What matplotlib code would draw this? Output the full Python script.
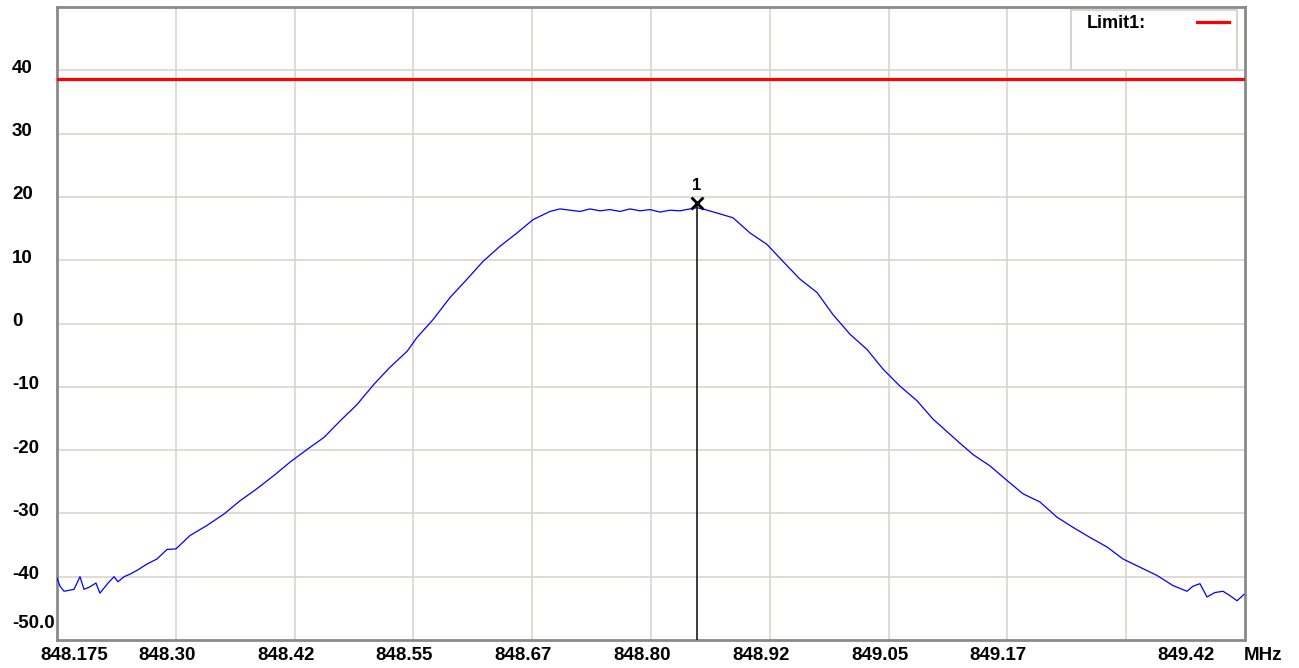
import matplotlib
matplotlib.use("Agg")
import matplotlib.pyplot as plt
import matplotlib.transforms as mtransforms
from matplotlib.patches import Rectangle
from matplotlib.lines import Line2D

# ---------------- data ----------------
freq_mhz = [
    848.1750, 848.1782, 848.1824, 848.1929, 848.1992, 848.2034, 848.2097, 848.2160,
    848.2202, 848.2276, 848.2350, 848.2392, 848.2455, 848.2518, 848.2592, 848.2697,
    848.2802, 848.2907, 848.3002, 848.3149, 848.3328, 848.3507, 848.3676, 848.3854,
    848.4033, 848.4202, 848.4381, 848.4559, 848.4728, 848.4907, 848.5085, 848.5254,
    848.5433, 848.5538, 848.5706, 848.5885, 848.6064, 848.6232, 848.6411, 848.6590,
    848.6758, 848.6937, 848.7042, 848.7148, 848.7253, 848.7358, 848.7463, 848.7569,
    848.7674, 848.7779, 848.7884, 848.7990, 848.8095, 848.8200, 848.8305, 848.8410,
    848.8484, 848.8568, 848.8684, 848.8863, 848.9042, 848.9220, 848.9389, 848.9568,
    848.9747, 848.9915, 849.0094, 849.0273, 849.0441, 849.0620, 849.0799, 849.0967,
    849.1146, 849.1220, 849.1388, 849.1567, 849.1746, 849.1914, 849.2093, 849.2272,
    849.2440, 849.2619, 849.2798, 849.2966, 849.3145, 849.3324, 849.3492, 849.3640,
    849.3703, 849.3776, 849.3850, 849.3934, 849.4019, 849.4092, 849.4166, 849.4239,
]
level_dbm = [
    -40.2, -41.5, -42.3, -42.0, -40.0, -42.0, -41.6, -41.0,
    -42.6, -41.2, -40.0, -40.8, -40.0, -39.6, -39.0, -38.0,
    -37.2, -35.7, -35.6, -33.5, -31.9, -30.1, -28.0, -26.1,
    -24.0, -21.9, -19.9, -18.0, -15.4, -12.8, -9.6, -6.9,
    -4.4, -2.2, 0.6, 4.1, 7.0, 9.8, 12.2, 14.3,
    16.4, 17.7, 18.1, 17.9, 17.7, 18.1, 17.8, 18.0,
    17.7, 18.1, 17.8, 18.0, 17.6, 17.9, 17.8, 18.1,
    18.3, 18.0, 17.5, 16.7, 14.3, 12.5, 9.8, 7.0,
    4.9, 1.4, -1.7, -4.1, -7.2, -9.9, -12.2, -15.1,
    -17.5, -18.5, -20.7, -22.5, -24.8, -26.9, -28.2, -30.6,
    -32.2, -33.8, -35.3, -37.2, -38.5, -39.8, -41.4, -42.3,
    -41.5, -41.1, -43.2, -42.5, -42.3, -43.0, -43.8, -42.8,
]
limit_level = 38.6
marker_freq = 848.8484
marker_level = 18.3
marker_name = "1"

x_start, x_stop, x_divs = 848.175, 849.425, 10
y_ticks = [40, 30, 20, 10, 0, -10, -20, -30, -40]
y_tick_labels = ["40", "30", "20", "10", "0", "-10", "-20", "-30", "-40"]
y_bottom_label = "-50.0"
x_tick_labels = ["848.175", "848.30", "848.42", "848.55", "848.67", "848.80",
                 "848.92", "849.05", "849.17", "849.42"]
x_tick_label_freqs = [848.175, 848.300, 848.425, 848.550, 848.675, 848.800,
                      848.925, 849.050, 849.175, 849.3725]
x_unit = "MHz"
legend_label = "Limit1:"

# ---------------- figure ----------------
W, H, DPI = 1299, 668, 100
fig = plt.figure(figsize=(W / DPI, H / DPI), dpi=DPI, facecolor="white")
L, R, T, B = 57, 1245, 7, 640
ax = fig.add_axes([L / W, 1 - B / H, (R - L) / W, (B - T) / H])
ax.set_facecolor("white")
ax.set_xlim(x_start, x_stop)
ax.set_ylim(-50, 50)

grid_c = "#d9d5ce"
step = (x_stop - x_start) / x_divs
for k in range(1, x_divs):
    ax.axvline(x_start + k * step, color=grid_c, lw=1.2, zorder=1)
for yv in y_ticks:
    ax.axhline(yv, color=grid_c, lw=1.2, zorder=1)

ax.set_xticks([])
ax.set_yticks([])
for s in ax.spines.values():
    s.set_color("#8a8a8a")
    s.set_linewidth(2.0)

# limit line
ax.axhline(limit_level, color="#ff0000", lw=2.3, zorder=3)

# trace
ax.plot(freq_mhz, level_dbm, color="#0000ff", lw=0.9, zorder=4)

# marker
mk_tr = mtransforms.offset_copy(ax.transData, fig=fig, x=0, y=5, units="dots")
ax.plot([marker_freq, marker_freq], [marker_level + 0.6, -50], color="#1a1a1a", lw=1.2,
        zorder=5)
ax.plot([marker_freq], [marker_level], marker="x", ms=9, mew=2, color="black",
        zorder=6, transform=mk_tr)
lbl_tr = mtransforms.offset_copy(ax.transData, fig=fig, x=0, y=22, units="dots")
ax.text(marker_freq, marker_level, marker_name, transform=lbl_tr, ha="center",
        va="center", fontsize=12, fontweight="bold", family="Liberation Sans")

fontkw = dict(family="Liberation Sans", fontweight="bold", fontsize=13.5, color="black")

# y labels
ylab_tr = mtransforms.blended_transform_factory(fig.transFigure, ax.transData)
ylab_tr2 = mtransforms.offset_copy(ylab_tr, fig=fig, x=0, y=2, units="dots")
for yv, lab in zip(y_ticks, y_tick_labels):
    fig.text(12 / W, yv, lab, transform=ylab_tr2, ha="left", va="center", **fontkw)
ylab_tr3 = mtransforms.offset_copy(ylab_tr, fig=fig, x=0, y=17, units="dots")
fig.text(12 / W, -50, y_bottom_label, transform=ylab_tr3, ha="left", va="center", **fontkw)

# x labels
xb = mtransforms.blended_transform_factory(ax.transData, ax.transAxes)
for i, (xv, lab) in enumerate(zip(x_tick_label_freqs, x_tick_labels)):
    dx = 17 if i == 0 else -9
    tr = mtransforms.offset_copy(xb, fig=fig, x=dx, y=-15, units="dots")
    ax.text(xv, 0, lab, transform=tr, ha="center", va="center", clip_on=False, **fontkw)
tr = mtransforms.offset_copy(xb, fig=fig, x=18, y=-15, units="dots")
ax.text(x_stop, 0, x_unit, transform=tr, ha="center", va="center", clip_on=False, **fontkw)

# legend box (figure pixel coords)
pix = mtransforms.Affine2D().scale(1 / W, -1 / H).translate(0, 1) + fig.transFigure
fig.add_artist(Rectangle((1071, 69.5), 166, -59.5, transform=pix, facecolor="white",
                         edgecolor=grid_c, lw=1.5, zorder=10))
fig.text(1087, 23, legend_label, transform=pix, ha="left", va="center", zorder=11,
         family="Liberation Sans", fontweight="bold", fontsize=13)
fig.add_artist(Line2D([1197, 1229], [22, 22], transform=pix, color="#ff0000", lw=2.3,
                      zorder=11))

fig.savefig("out.png", dpi=DPI, facecolor="white")
